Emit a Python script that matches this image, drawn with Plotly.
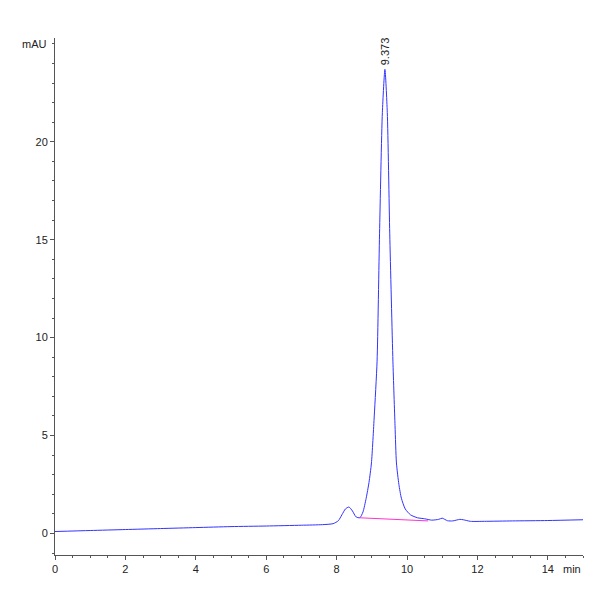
import plotly.graph_objects as go

# retention time (min) and signal (mAU)
time_min = [0, 1, 2, 3, 4, 5, 6, 7, 7.6, 7.9, 8.05, 8.15, 8.25, 8.35, 8.45, 8.55, 8.66,
            8.75, 8.84, 8.92, 8.99, 9.07, 9.15, 9.22, 9.3, 9.373, 9.44, 9.51, 9.6, 9.66,
            9.7, 9.77, 9.84, 9.95, 10.1, 10.3, 10.5, 10.7, 10.9, 11.0, 11.15, 11.3,
            11.5, 11.6, 11.8, 12.2, 13, 14, 15]
signal = [0.1, 0.15, 0.2, 0.25, 0.3, 0.35, 0.38, 0.42, 0.45, 0.5, 0.65, 0.95, 1.25, 1.35,
          1.15, 0.85, 0.8, 1.1, 1.8, 2.6, 3.6, 6.0, 8.8, 15.3, 21.5, 23.7, 21.5, 15.3,
          8.8, 5.5, 3.6, 2.5, 1.8, 1.25, 0.95, 0.8, 0.75, 0.68, 0.72, 0.78, 0.65, 0.64,
          0.72, 0.7, 0.62, 0.62, 0.64, 0.66, 0.7]
baseline_t = [8.66, 10.6]
baseline_y = [0.8, 0.64]
peak_rt = 9.373
peak_height = 23.7
y_ticks = [0, 5, 10, 15, 20]

font = dict(family="Liberation Sans Narrow, Arial", size=11, color="#222")

fig = go.Figure()
fig.add_trace(go.Scatter(x=time_min, y=signal, mode="lines", line=dict(color="#3333ff", width=1, shape="spline", smoothing=0.6)))
fig.add_trace(go.Scatter(x=baseline_t, y=baseline_y, mode="lines", line=dict(color="#ff33cc", width=1)))
fig.add_annotation(x=peak_rt, y=peak_height, text=f"{peak_rt:.3f}", textangle=-90, showarrow=False,
                   yanchor="bottom", yshift=2, font=font)

axis = dict(showgrid=False, zeroline=False, showline=True, linecolor="#555", ticks="outside",
            ticklen=4, tickcolor="#555", tickfont=font,
            minor=dict(ticks="outside", ticklen=2, tickcolor="#555"))
fig.update_xaxes(range=[0, 15], dtick=2, minor_dtick=0.5, **axis)
fig.update_yaxes(range=[-1.1, 25.3], tickvals=y_ticks, minor_dtick=1, **axis)
fig.add_annotation(x=1, xref="paper", y=0, yref="paper", text="min", showarrow=False,
                   xanchor="right", yanchor="top", yshift=-6, font=font)
fig.add_annotation(x=0, xref="paper", y=25, yref="y", text="mAU", showarrow=False,
                   xanchor="right", xshift=-6, font=font)
fig.update_layout(width=600, height=600, showlegend=False, plot_bgcolor="white", paper_bgcolor="white",
                  margin=dict(l=47, r=25, t=30, b=53, autoexpand=False))
fig.write_html("out.html")
